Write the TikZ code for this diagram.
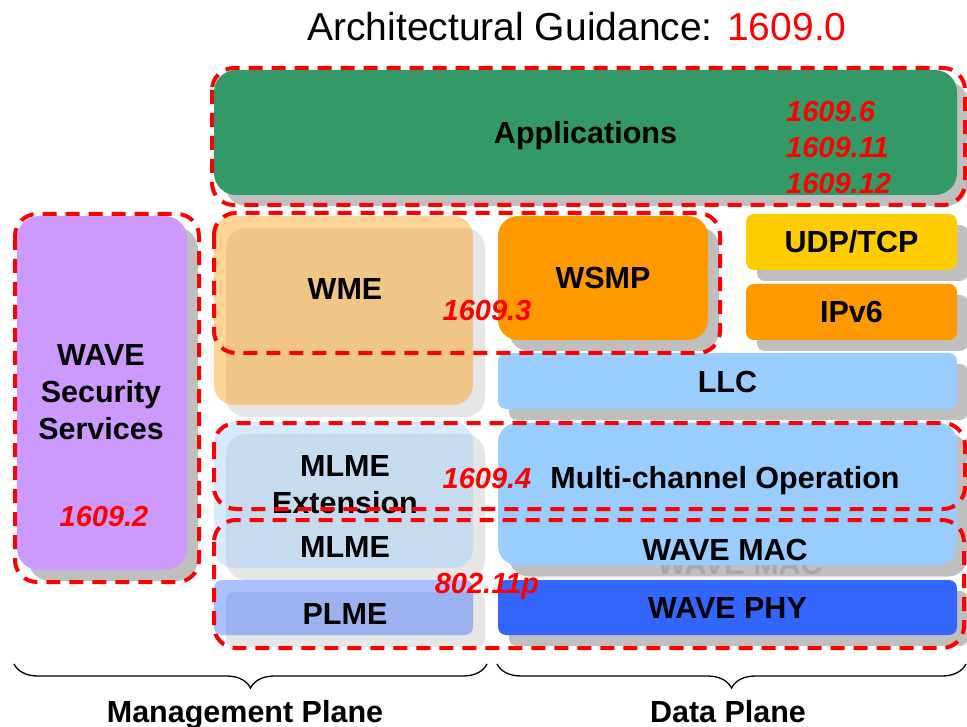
\documentclass[tikz,border=0pt]{standalone}
\usepackage{fontspec}
\setmainfont{Liberation Sans}
\usetikzlibrary{shadows,decorations.pathreplacing}

\definecolor{appgreen}{RGB}{51,153,102}
\definecolor{secpurple}{RGB}{204,153,255}
\definecolor{wsmporange}{RGB}{255,153,0}
\definecolor{udpyellow}{RGB}{255,204,0}
\definecolor{macblue}{RGB}{153,204,255}
\definecolor{phyblue}{RGB}{51,102,255}
\definecolor{darkshadow}{RGB}{191,191,191}
\definecolor{lightshadow}{RGB}{230,230,230}
\definecolor{ghostgray}{RGB}{168,168,168}

\newcommand{\lblfont}{\fontsize{30.5}{37}\selectfont\bfseries}
\newcommand{\stdfont}{\fontsize{29}{37}\selectfont\bfseries\itshape}

\tikzstyle{lbl} = [font = \lblfont, inner sep = 0pt, text height = 22pt, text depth = 0pt]
\tikzstyle{std} = [font = \stdfont, text = red, inner sep = 0pt, text height = 21pt, text depth = 0pt]
\tikzstyle{blk} = [lbl, rounded corners = 12pt, drop shadow = {shadow xshift = 11pt, shadow yshift = -11pt, fill = darkshadow, opacity = 1}]
\tikzstyle{mgmt} = [lbl, rounded corners = 20pt, fill opacity = 0.41, text opacity = 1, drop shadow = {shadow xshift = 12pt, shadow yshift = -12pt, fill = lightshadow, opacity = 1}]
\tikzstyle{stdframe} = [draw = red, line width = 4pt, dash pattern = on 14pt off 9pt, rounded corners = 22pt]
\tikzstyle{brace} = [decorate, decoration = {brace, mirror, amplitude = 24pt}, line width = 1.3pt]

\begin{document}
\begin{tikzpicture}[x = 1pt, y = -1pt]
    \useasboundingbox (0, 0) rectangle (967, 727);

    \node (title) at (577, 27) [font = \fontsize{39}{44}\selectfont] {Architectural Guidance: \textcolor{red}{1609.0}};

    % top layer
    \node (app) at (585.5, 132.5) [blk, rounded corners = 22pt, fill = appgreen, minimum width = 743pt, minimum height = 125pt] {Applications};
    \node (std6) at (786, 111) [std, anchor = west] {1609.6};
    \node (std11) at (786, 147) [std, anchor = west] {1609.11};
    \node (std12) at (786, 183) [std, anchor = west] {1609.12};

    % security
    \node (sec) at (102, 393) [blk, rounded corners = 22pt, fill = secpurple, minimum width = 170pt, minimum height = 354pt] {};
    \node (secText) at (101, 392) [font = \lblfont, align = center, inner sep = 0pt] {WAVE\\Security\\Services};
    \node (std2) at (104, 516) [std] {1609.2};

    % management plane
    \node (wme) at (343.5, 310.5) [mgmt, fill = wsmporange, minimum width = 259pt, minimum height = 189pt] {};
    \node (wmeText) at (345, 289) [lbl] {WME};
    \node (mlme) at (343.5, 495) [mgmt, fill = macblue, minimum width = 259pt, minimum height = 146pt] {};
    \node (mlmeExt) at (345, 485) [font = \lblfont, align = center, inner sep = 0pt] {MLME\\Extension};
    \node (mlmeText) at (345, 546) [lbl] {MLME};
    \node (plme) at (343.5, 607.5) [mgmt, rounded corners = 8pt, fill = phyblue, minimum width = 259pt, minimum height = 55pt] {};
    \node (plmeText) at (345, 613) [lbl] {PLME};

    % data plane
    \node (wsmp) at (603, 278) [blk, rounded corners = 20pt, fill = wsmporange, minimum width = 210pt, minimum height = 124pt] {WSMP};
    \node (udp) at (851.5, 242) [blk, rounded corners = 8pt, fill = udpyellow, minimum width = 211pt, minimum height = 56pt] {UDP/TCP};
    \node (ipv6) at (851.5, 312) [blk, rounded corners = 8pt, fill = wsmporange, minimum width = 211pt, minimum height = 56pt] {IPv6};
    \node (llc) at (727.5, 381) [blk, rounded corners = 8pt, fill = macblue, minimum width = 459pt, minimum height = 56pt] {LLC};
    \node (mac) at (727.5, 494) [blk, rounded corners = 20pt, fill = macblue, minimum width = 459pt, minimum height = 143pt] {};
    \node (mcoText) at (725, 477) [lbl] {Multi-channel Operation};
    \node (macText) at (725, 549) [lbl] {WAVE MAC};
    \begin{scope}
        \clip (498, 565.5) rectangle (967, 580);
        \node (macGhost) at (740, 563) [lbl, text = ghostgray] {WAVE MAC};
    \end{scope}
    \node (phy) at (727.5, 607.5) [blk, rounded corners = 8pt, fill = phyblue, minimum width = 459pt, minimum height = 55pt] {WAVE PHY};

    % standards
    \node (std3) at (487, 310) [std] {1609.3};
    \node (std4) at (487, 478) [std] {1609.4};
    \node (std80211p) at (487, 583) [std] {802.11p};

    \draw [stdframe] (212, 68) rectangle (965, 205);
    \draw [stdframe] (15, 214) rectangle (199, 582);
    \draw [stdframe] (214, 213) rectangle (720, 353);
    \draw [stdframe] (214, 423) rectangle (965, 509);
    \draw [stdframe] (214, 520) rectangle (964, 648);

    % planes
    \coordinate (mgmtL) at (14, 664);
    \coordinate (mgmtR) at (487, 664);
    \coordinate (dataL) at (497, 664);
    \coordinate (dataR) at (966, 664);
    \draw [brace] (mgmtL) -- (mgmtR);
    \draw [brace] (dataL) -- (dataR);
    \node (mgmtPlane) at (245, 711) [lbl] {Management Plane};
    \node (dataPlane) at (728, 711) [lbl] {Data Plane};
\end{tikzpicture}
\end{document}
